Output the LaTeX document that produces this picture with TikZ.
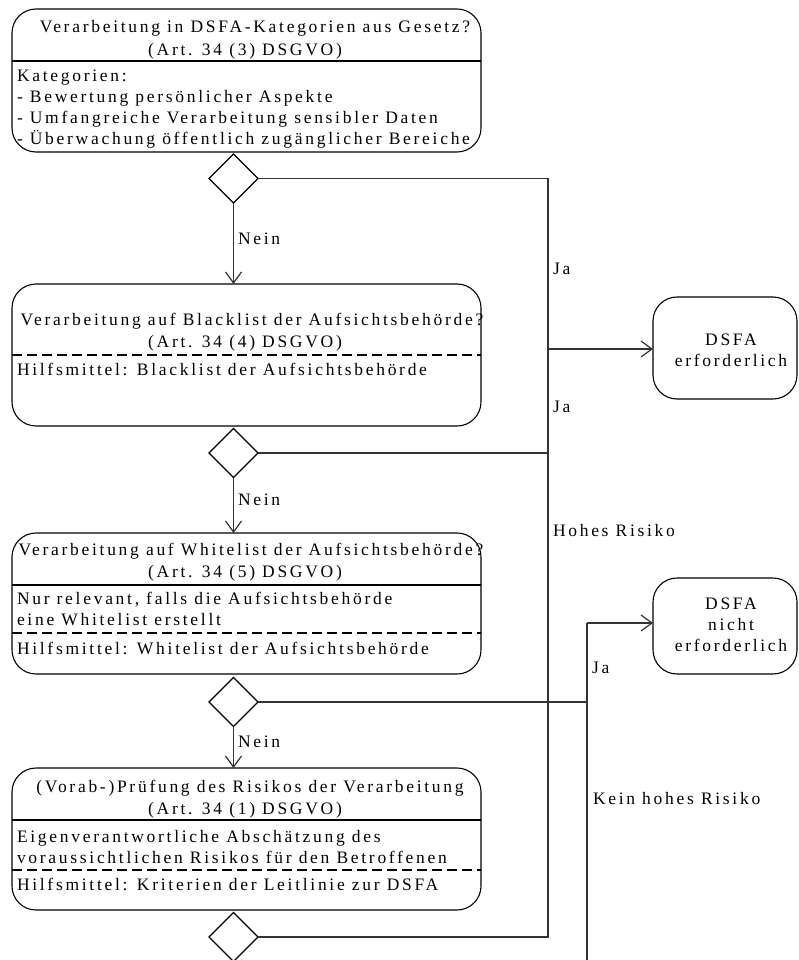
\documentclass[tikz,border=0pt]{standalone}
\usepackage{fontspec}
\setmainfont{Liberation Serif}[LetterSpace=15.5]
\usetikzlibrary{arrows.meta,shapes.geometric}

\begin{document}
\begin{tikzpicture}[x=1pt,y=-1pt,
  every node/.style={inner sep=0pt, outer sep=0pt, font=\fontsize{17.5}{21}\selectfont},
  box/.style={draw, rounded corners=24pt, line width=1.1pt, minimum width=469pt},
  sep/.style={line width=1.1pt},
  dsep/.style={line width=1.1pt, dash pattern=on 10pt off 5pt},
  gate/.style={draw, diamond, aspect=1, minimum size=49pt, line width=1.1pt},
  result/.style={draw, rounded corners=24pt, line width=1.1pt, minimum width=144pt},
  conn/.style={draw=black!80, line width=1.2pt},
  arr/.style={conn, -{Straight Barb[length=11pt,width=16pt,line width=1.2pt]}},
  txt/.style={anchor=base},
  ltxt/.style={anchor=base west},
]
\useasboundingbox (0,0) rectangle (798,960);
\fill[white] (0,0) rectangle (798,960);

% ---- activity boxes ----
\node[box, minimum height=143pt] (b1) at (246.5,80.5) {};
\node[box, minimum height=142pt] (b2) at (246.5,355) {};
\node[box, minimum height=141pt] (b3) at (246.5,603.5) {};
\node[box, minimum height=142pt] (b4) at (246.5,839) {};

% separators
\draw[sep]  (b1.west |- 0,61)  -- (b1.east |- 0,61);
\draw[dsep] (b2.west |- 0,355) -- (b2.east |- 0,355);
\draw[sep]  (b3.west |- 0,585) -- (b3.east |- 0,585);
\draw[dsep] (b3.west |- 0,633) -- (b3.east |- 0,633);
\draw[sep]  (b4.west |- 0,820) -- (b4.east |- 0,820);
\draw[dsep] (b4.west |- 0,870) -- (b4.east |- 0,870);

% box texts
\node[txt]  (t1a) at (255,33) {Verarbeitung in DSFA-Kategorien aus Gesetz?};
\node[txt]  (t1b) at (245,56) {(Art. 34 (3) DSGVO)};
\node[ltxt] (t1c) at (17,82)  {Kategorien:};
\node[ltxt] (t1d) at (17,103) {- Bewertung persönlicher Aspekte};
\node[ltxt] (t1e) at (17,124) {- Umfangreiche Verarbeitung sensibler Daten};
\node[ltxt] (t1f) at (17,145) {- Überwachung öffentlich zugänglicher Bereiche};

\node[txt]  (t2a) at (252,325) {Verarbeitung auf Blacklist der Aufsichtsbehörde?};
\node[txt]  (t2b) at (245,347) {(Art. 34 (4) DSGVO)};
\node[ltxt] (t2c) at (17,375)  {Hilfsmittel: Blacklist der Aufsichtsbehörde};

\node[txt]  (t3a) at (251,555) {Verarbeitung auf Whitelist der Aufsichtsbehörde?};
\node[txt]  (t3b) at (245,577) {(Art. 34 (5) DSGVO)};
\node[ltxt] (t3c) at (17,604)  {Nur relevant, falls die Aufsichtsbehörde};
\node[ltxt] (t3d) at (17,625)  {eine Whitelist erstellt};
\node[ltxt] (t3e) at (17,654)  {Hilfsmittel: Whitelist der Aufsichtsbehörde};

\node[txt]  (t4a) at (250,792) {(Vorab-)Prüfung des Risikos der Verarbeitung};
\node[txt]  (t4b) at (245,814) {(Art. 34 (1) DSGVO)};
\node[ltxt] (t4c) at (17,842)  {Eigenverantwortliche Abschätzung des};
\node[ltxt] (t4d) at (17,863)  {voraussichtlichen Risikos für den Betroffenen};
\node[ltxt] (t4e) at (17,890)  {Hilfsmittel: Kriterien der Leitlinie zur DSFA};

% ---- result boxes ----
\node[result, minimum height=102pt] (r1) at (725,348) {};
\node[txt] (r1a) at (731,345) {DSFA};
\node[txt] (r1b) at (731,366) {erforderlich};

\node[result, minimum height=96pt] (r2) at (725,626) {};
\node[txt] (r2a) at (731,609) {DSFA};
\node[txt] (r2b) at (731,630) {nicht};
\node[txt] (r2c) at (731,651) {erforderlich};

% ---- decisions ----
\node[gate] (d1) at (233.5,178.5) {};
\node[gate] (d2) at (233.5,453) {};
\node[gate] (d3) at (233.5,702) {};
\node[gate] (d4) at (233.5,937) {};

% ---- flow ----
\draw[arr] (d1.south) -- (d1.south |- b2.north);
\draw[arr] (d2.south) -- (d2.south |- b3.north);
\draw[arr] (d3.south) -- (d3.south |- b4.north);

\coordinate (jy) at (548,349);
\coordinate (jn) at (587,623);
\coordinate (jb) at (587,960);

\draw[conn] (d1.east) -| (jy);
\draw[conn] (d2.east) -| (jy);
\draw[conn] (d4.east) -| (jy);
\draw[arr]  (jy) -- (jy -| r1.west);

\draw[conn] (d3.east) -| (jn);
\draw[conn] (jb) -- (jn);
\draw[arr]  (jn) -- (jn -| r2.west);

% edge labels
\node[ltxt] (n1) at (238,244) {Nein};
\node[ltxt] (n2) at (238,505) {Nein};
\node[ltxt] (n3) at (238,747) {Nein};
\node[ltxt] (y1) at (553,274) {Ja};
\node[ltxt] (y2) at (553,412) {Ja};
\node[ltxt] (y3) at (592,673) {Ja};
\node[ltxt] (hr) at (553,536) {Hohes Risiko};
\node[ltxt] (kr) at (593,804) {Kein hohes Risiko};
\end{tikzpicture}
\end{document}
